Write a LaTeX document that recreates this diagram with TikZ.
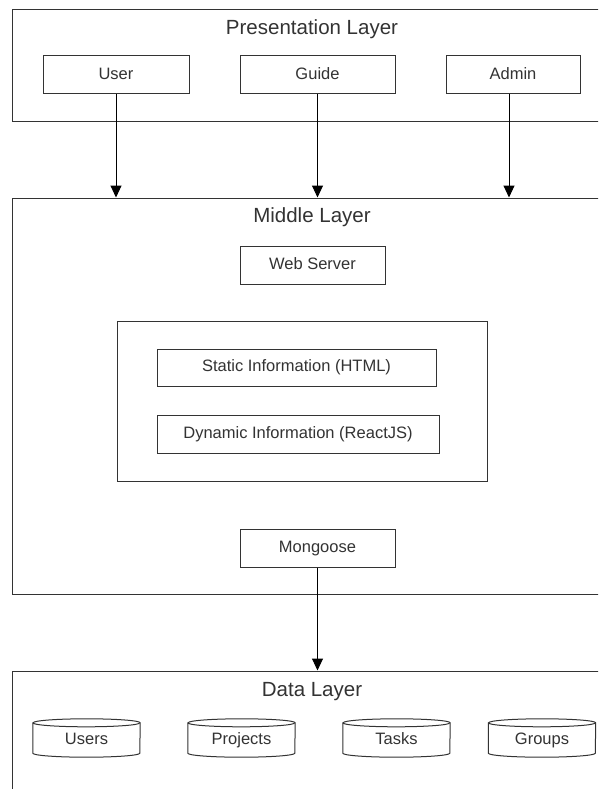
\documentclass[tikz,border=0pt]{standalone}
\usepackage{fontspec}
\setmainfont{Liberation Sans}
\usetikzlibrary{arrows.meta}
\definecolor{edge}{HTML}{333333}
\definecolor{txt}{HTML}{333333}
\tikzset{
  layerbox/.style={draw=edge, line width=1pt, rectangle, inner sep=0pt},
  titletext/.style={text=txt, font=\fontsize{20.5}{24}\selectfont, inner sep=0pt,
    text height=15pt, text depth=4pt},
  itembox/.style={draw=edge, line width=1pt, rectangle, inner sep=0pt, text=txt,
    font=\fontsize{16.5}{19}\selectfont, text height=12pt, text depth=3.5pt},
  dbnode/.style={rectangle, inner sep=0pt, minimum width=107pt, minimum height=38pt,
    text=txt, font=\fontsize{16.5}{19}\selectfont, text height=12pt, text depth=3.5pt},
  cyl/.style={draw=edge, line width=1pt},
  flow/.style={draw=black, line width=1pt, -{Triangle[width=11pt,length=12pt]}},
}
\begin{document}
\begin{tikzpicture}[x=1pt, y=-1pt]
\useasboundingbox (0,0) rectangle (598,789);
\clip (0,0) rectangle (598,789);
\fill[white] (0,0) rectangle (598,789);

% Presentation layer
\node[layerbox, minimum width=618pt, minimum height=112pt] (pres) at (321,66) {};
\node[titletext] (prestitle) at (312,29) {Presentation Layer};
\node[itembox, minimum width=146pt, minimum height=38pt] (user) at (116,75) {User};
\node[itembox, minimum width=155pt, minimum height=38pt] (guide) at (317.5,75) {Guide};
\node[itembox, minimum width=134pt, minimum height=38pt] (admin) at (513,75) {Admin};

% Middle layer
\node[layerbox, minimum width=618pt, minimum height=396pt] (mid) at (321,396) {};
\node[titletext] (midtitle) at (312,217) {Middle Layer};
\node[itembox, minimum width=145pt, minimum height=38pt] (web) at (312.5,265) {Web Server};
\node[layerbox, minimum width=370pt, minimum height=160pt] (inner) at (302,401) {};
\node[itembox, minimum width=279pt, minimum height=37pt] (static) at (296.5,367.5) {Static Information (HTML)};
\node[itembox, minimum width=282pt, minimum height=38pt] (dynamic) at (298,434) {Dynamic Information (ReactJS)};
\node[itembox, minimum width=155pt, minimum height=38pt] (mongoose) at (317.5,548) {Mongoose};

% Data layer
\node[layerbox, minimum width=618pt, minimum height=160pt] (data) at (321,751) {};
\node[titletext] (datatitle) at (312,691) {Data Layer};
\node[dbnode] (users) at (86.5,738) {};
\node[dbnode] (projects) at (241.5,738) {};
\node[dbnode] (tasks) at (396.5,738) {};
\node[dbnode] (groups) at (542,738) {};
\foreach \n in {users,projects,tasks,groups} {
  \draw[cyl] ([yshift=-4pt]\n.north west) -- ([yshift=4pt]\n.south west)
    arc[start angle=180, end angle=360, x radius=53.5pt, y radius=4pt]
    -- ([yshift=-4pt]\n.north east)
    arc[start angle=0, end angle=180, x radius=53.5pt, y radius=4pt] -- cycle;
  \draw[cyl] ([yshift=-4pt]\n.north west)
    arc[start angle=180, end angle=360, x radius=53.5pt, y radius=4pt];
}
\node[dbnode] at (users) [yshift=-2pt] {Users};
\node[dbnode] at (projects) [yshift=-2pt] {Projects};
\node[dbnode] at (tasks) [yshift=-2pt] {Tasks};
\node[dbnode] at (groups) [yshift=-2pt] {Groups};

% Connectors
\draw[flow] (user.south) -- (user.south |- mid.north);
\draw[flow] (guide.south) -- (guide.south |- mid.north);
\draw[flow] ([xshift=-4pt]admin.south) -- ([xshift=-4pt]admin.south |- mid.north);
\draw[flow] (mongoose.south) -- (mongoose.south |- data.north);
\end{tikzpicture}
\end{document}
